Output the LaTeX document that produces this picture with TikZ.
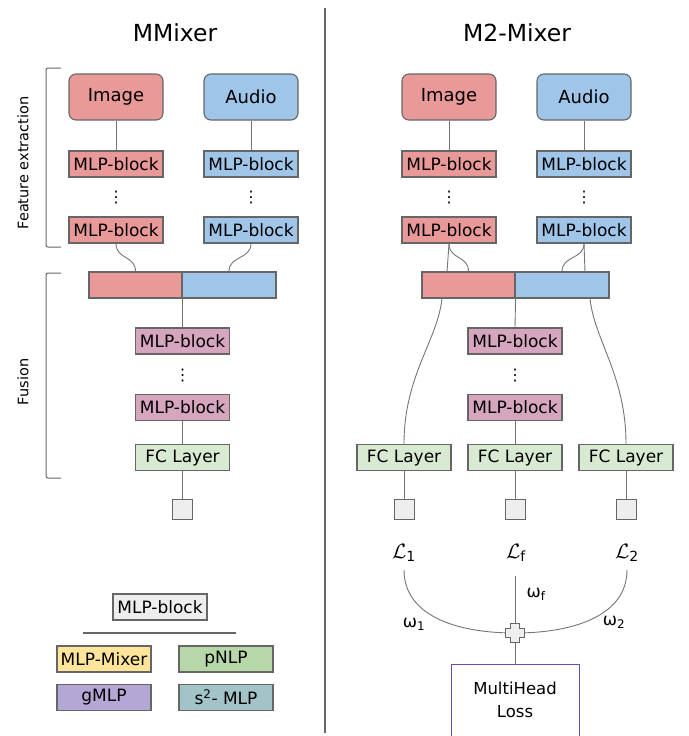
\documentclass[tikz,border=0pt]{standalone}
\usepackage{amsmath}
\usepackage{fontspec}
\setmainfont{DejaVu Sans}
\usepackage{xcolor}
\usepackage{tikz}
\usetikzlibrary{positioning}

\definecolor{imgred}{HTML}{EA9999}
\definecolor{audblue}{HTML}{9FC5E8}
\definecolor{fusepink}{HTML}{D5A6BD}
\definecolor{fcgreen}{HTML}{D9EAD3}
\definecolor{lightgrey}{HTML}{EEEEEE}
\definecolor{mixyellow}{HTML}{FFE599}
\definecolor{pnlpgreen}{HTML}{B6D7A8}
\definecolor{gmlpviolet}{HTML}{B4A7D6}
\definecolor{smlpteal}{HTML}{A2C4C9}
\definecolor{edgegrey}{HTML}{666666}
\definecolor{lossviolet}{HTML}{674EA7}

\begin{document}
\begin{tikzpicture}[x=1pt,y=-1pt,
    box/.style={draw=edgegrey,line width=1.1pt,minimum width=94pt,minimum height=26pt,
        inner sep=0pt,font=\fontsize{17}{20}\selectfont},
    modal/.style={box,rounded corners=7pt,minimum height=46pt,font=\fontsize{18}{21}\selectfont},
    barpart/.style={draw=edgegrey,line width=1.1pt,minimum width=93pt,minimum height=26pt,inner sep=0pt},
    outsq/.style={draw=edgegrey,fill=lightgrey,line width=1pt,minimum size=20pt,inner sep=0pt},
    vdot/.style={inner sep=0pt,font=\fontsize{16}{16}\selectfont},
    wire/.style={draw=edgegrey!90,line width=0.9pt},
    title/.style={font=\fontsize{23.5}{28}\selectfont},
    side/.style={rotate=90,font=\fontsize{14.5}{17}\selectfont}]
    \useasboundingbox (0,0) rectangle (688,736);

    % Separator
    \draw[edgegrey,line width=1.2pt] (325,8) -- (325,733);

    % MMixer (left)
    \node[title] (ttla) at (175,33) {MMixer};
    \node[modal,fill=imgred] (aimg) at (116,97) {Image};
    \node[modal,fill=audblue] (aaud) at (251,97) {Audio};
    \node[box,fill=imgred] (aimgb1) at (116,164) {MLP-block};
    \node[box,fill=audblue] (aaudb1) at (251,164) {MLP-block};
    \node[vdot] (aimgd) at (116,198) {⋮};
    \node[vdot] (aaudd) at (251,198) {⋮};
    \node[box,fill=imgred] (aimgb2) at (116,230) {MLP-block};
    \node[box,fill=audblue] (aaudb2) at (251,230) {MLP-block};
    \node[barpart,fill=imgred] (abarimg) at (135.5,285) {};
    \node[barpart,fill=audblue,minimum width=94pt] (abaraud) at (229,285) {};
    \node[box,fill=fusepink] (afuse1) at (182.5,341) {MLP-block};
    \node[vdot] (afused) at (182.5,376) {⋮};
    \node[box,fill=fusepink] (afuse2) at (182.5,407.5) {MLP-block};
    \node[box,fill=fcgreen] (afc) at (182.5,457.5) {FC Layer};
    \node[outsq] (aout) at (182.5,509) {};
    \draw[wire] (aimg) -- (aimgb1);
    \draw[wire] (aaud) -- (aaudb1);
    \draw[wire] (aimgb2.south) .. controls +(0,16) and +(0,-16) .. (abarimg.north);
    \draw[wire] (aaudb2.south) .. controls +(0,16) and +(0,-16) .. (abaraud.north);
    \draw[wire] (abarimg.south east) -- (afuse1.north);
    \draw[wire] (afuse2) -- (afc);
    \draw[wire] (afc) -- (aout);

    % Brackets
    \draw[edgegrey,line width=1pt,rounded corners=2pt] (61,68) -- (46,68) -- (46,247) -- (61,247);
    \node[side] (lblfe) at (23,163) {Feature extraction};
    \draw[edgegrey,line width=1pt,rounded corners=2pt] (61,273) -- (46,273) -- (46,478) -- (61,478);
    \node[side] (lblfu) at (23,382) {Fusion};

    % Legend
    \node[box,fill=lightgrey] (lgblk) at (160,607) {MLP-block};
    \draw[edgegrey,line width=1.2pt] (83,633) -- (236,633);
    \node[box,fill=mixyellow] (lgmix) at (104,659) {MLP-Mixer};
    \node[box,fill=pnlpgreen] (lgpnlp) at (226,659) {pNLP};
    \node[box,fill=gmlpviolet] (lggmlp) at (104,697.5) {gMLP};
    \node[box,fill=smlpteal] (lgsmlp) at (226,697.5) {s\textsuperscript{2}- MLP};

    % M2-Mixer (right)
    \node[title] (ttlb) at (517,33) {M2-Mixer};
    \node[modal,fill=imgred] (bimg) at (449,97) {Image};
    \node[modal,fill=audblue] (baud) at (584,97) {Audio};
    \node[box,fill=imgred] (bimgb1) at (449,164) {MLP-block};
    \node[box,fill=audblue] (baudb1) at (584,164) {MLP-block};
    \node[vdot] (bimgd) at (449,198) {⋮};
    \node[vdot] (baudd) at (584,198) {⋮};
    \node[box,fill=imgred] (bimgb2) at (449,230) {MLP-block};
    \node[box,fill=audblue] (baudb2) at (584,230) {MLP-block};
    \node[barpart,fill=imgred] (bbarimg) at (468.5,285) {};
    \node[barpart,fill=audblue,minimum width=94pt] (bbaraud) at (562,285) {};
    \coordinate (bimgin) at (447,272);
    \coordinate (baudin) at (585,272);
    \coordinate (bimgout) at (442,298);
    \coordinate (baudout) at (590,298);
    \node[box,fill=fusepink] (bfuse1) at (515,341) {MLP-block};
    \node[vdot] (bfused) at (515,376) {⋮};
    \node[box,fill=fusepink] (bfuse2) at (515,407.5) {MLP-block};
    \node[box,fill=fcgreen] (bfcimg) at (404,457.5) {FC Layer};
    \node[box,fill=fcgreen] (bfcfuse) at (515,457.5) {FC Layer};
    \node[box,fill=fcgreen] (bfcaud) at (626,457.5) {FC Layer};
    \node[outsq] (boutimg) at (404,509) {};
    \node[outsq] (boutfuse) at (515,509) {};
    \node[outsq] (boutaud) at (626,509) {};
    \draw[wire] (bimg) -- (bimgb1);
    \draw[wire] (baud) -- (baudb1);
    \draw[wire] (bimgb2.south) -- (bimgin);
    \draw[wire] (bimgb2.south) .. controls +(0,16) and +(0,-16) .. (bbarimg.north);
    \draw[wire] (baudb2.south) -- (baudin);
    \draw[wire] (baudb2.south) .. controls +(0,16) and +(0,-16) .. (bbaraud.north);
    \draw[wire] (bbarimg.south east) -- (bfuse1.north);
    \draw[wire] (bimgout) .. controls (438,340) and (404,375) .. (bfcimg.north);
    \draw[wire] (baudout) .. controls (594,340) and (626,375) .. (bfcaud.north);
    \draw[wire] (bfuse2) -- (bfcfuse);
    \draw[wire] (bfcimg) -- (boutimg);
    \draw[wire] (bfcfuse) -- (boutfuse);
    \draw[wire] (bfcaud) -- (boutaud);

    % Multi-head loss
    \node[font=\fontsize{20}{24}\selectfont,inner sep=0pt] (lone) at (404,553) {$\mathcal{L}_{\text{1}}$};
    \node[font=\fontsize{20}{24}\selectfont,inner sep=0pt] (lfuse) at (516,553) {$\mathcal{L}_{\text{f}}$};
    \node[font=\fontsize{20}{24}\selectfont,inner sep=0pt] (ltwo) at (627,553) {$\mathcal{L}_{\text{2}}$};
    \coordinate (plus) at (515,633);
    \node[draw=lossviolet,line width=1pt,minimum width=128pt,minimum height=72pt,align=center,
        font=\fontsize{16.5}{23}\selectfont] (loss) at (515,700) {MultiHead\\Loss};
    \draw[wire,shorten <=8pt] (lone.south) .. controls (404,615) and (455,633) .. (plus);
    \draw[wire,shorten <=8pt] (ltwo.south) .. controls (627,615) and (575,633) .. (plus);
    \draw[wire,shorten <=14pt] (lfuse.south -| plus) -- (plus);
    \draw[wire] (plus) -- (loss.north);
    \begin{scope}[shift={(plus)}]
    \filldraw[draw=edgegrey,fill=lightgrey,line width=0.9pt]
        (-4.5,-9.5) -- (4.5,-9.5) -- (4.5,-4.5) -- (9.5,-4.5) -- (9.5,4.5) -- (4.5,4.5)
        -- (4.5,9.5) -- (-4.5,9.5) -- (-4.5,4.5) -- (-9.5,4.5) -- (-9.5,-4.5) -- (-4.5,-4.5) -- cycle;
    \end{scope}
    \node[font=\fontsize{17}{20}\selectfont] (wone) at (414,624) {ω\textsubscript{1}};
    \node[font=\fontsize{17}{20}\selectfont] (wfuse) at (536,594) {ω\textsubscript{f}};
    \node[font=\fontsize{17}{20}\selectfont] (wtwo) at (614,622) {ω\textsubscript{2}};
\end{tikzpicture}
\end{document}
